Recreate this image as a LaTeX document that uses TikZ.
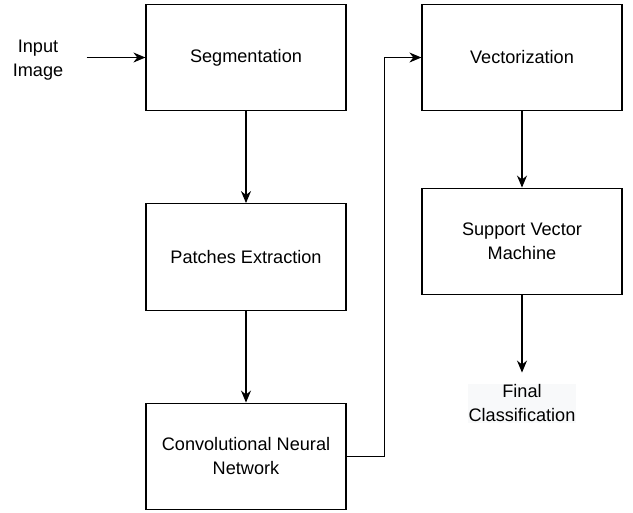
\documentclass[tikz,border=0pt]{standalone}
\usepackage{fontspec}
\setmainfont{Liberation Sans}
\usetikzlibrary{arrows.meta}

\definecolor{labelbg}{RGB}{248,249,250}

\tikzset{every picture/.style={line width=0.9pt}}
\tikzset{
	stagebox/.style={draw, minimum width=150pt, minimum height=80pt, inner sep=0.75pt, align=center, font=\fontsize{13.6}{18}\selectfont},
	freetext/.style={inner sep=0.75pt, align=center, font=\fontsize{13.6}{18}\selectfont},
	flow/.style={-{Stealth[length=9pt,width=7.5pt]}}
}

\begin{document}
\begin{tikzpicture}[x=0.75pt,y=0.75pt,yscale=-1,xscale=1]
		%set diagram left start at 0, and has height of 512
		\useasboundingbox (0,0) rectangle (633,512);

		% Text Node
		\node [freetext, minimum width=72pt] (input) at (38,60) {Input\\Image};

		%Shape: Rectangle
		\node [stagebox] (seg) at (246,57.5) {Segmentation};
		%Shape: Rectangle
		\node [stagebox] (patch) at (246,257) {Patches Extraction};
		%Shape: Rectangle
		\node [stagebox] (cnn) at (246,456.5) {Convolutional Neural\\Network};
		%Shape: Rectangle
		\node [stagebox] (vec) at (522,57.5) {Vectorization};
		%Shape: Rectangle
		\node [stagebox] (svm) at (522,241.5) {Support Vector\\Machine};

		% Text Node
		\node [freetext, fill=labelbg] (final) at (522,403.5) {Final\\Classification};

		%Straight Lines
		\draw [flow] (input.east |- seg.west) -- (seg.west);
		%Straight Lines
		\draw [flow] (seg) -- (patch);
		%Straight Lines
		\draw [flow] (patch) -- (cnn);
		%Straight Lines
		\draw [flow] (cnn.east) -- ++(38,0) |- (vec.west);
		%Straight Lines
		\draw [flow] (vec) -- (svm);
		%Straight Lines
		\draw [flow, shorten >=8pt] (svm) -- (final);
	\end{tikzpicture}
\end{document}
